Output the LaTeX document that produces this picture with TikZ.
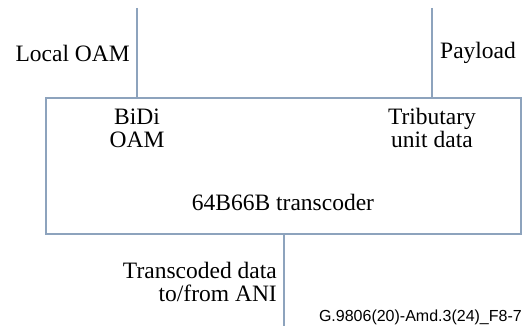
\documentclass[tikz,border=0pt]{standalone}
\usepackage{fontspec}
\setmainfont{Liberation Serif}
\newfontfamily\labelfont{Liberation Sans}
\definecolor{wire}{HTML}{8DA3BD}
\begin{document}
\begin{tikzpicture}[x=1pt,y=-1pt,
  wirestyle/.style={draw=wire,line width=1.1pt},
  txt/.style={inner sep=0pt,font=\fontsize{23.5}{27}\selectfont,align=center},
  figid/.style={inner sep=0pt,font=\labelfont\fontsize{16}{18}\selectfont}]
\useasboundingbox (0,0) rectangle (523,329);
% transcoder block
\node[wirestyle,rectangle,minimum width=475pt,minimum height=136pt,inner sep=0pt] (box) at (283.5,166) {};
% ports
\coordinate (oamtop) at (137,8);
\coordinate (paytop) at (432,8);
\coordinate (anibot) at (284,326);
\coordinate (oamin) at (137,98);
\coordinate (payin) at (432,98);
\coordinate (aniout) at (284,234);
\draw[wirestyle] (oamtop) -- (oamin);
\draw[wirestyle] (paytop) -- (payin);
\draw[wirestyle] (aniout) -- (anibot);
% labels
\node[txt,anchor=east] (loam) at (130,53) {Local OAM};
\node[txt,anchor=west] (pay) at (440,53) {Payload};
\node[txt] (bidi) at (137,128) {BiDi\\[-4pt]OAM};
\node[txt] (trib) at (432,128) {Tributary\\[-4pt]unit data};
\node[txt] (tc) at (283,202) {64B66B transcoder};
\node[txt,anchor=east,align=right] (ani) at (277,282) {Transcoded data\\[-4pt]to/from ANI};
\node[figid,anchor=east] (fid) at (522,317) {G.9806(20)-Amd.3(24)\_F8-7};
\end{tikzpicture}
\end{document}
